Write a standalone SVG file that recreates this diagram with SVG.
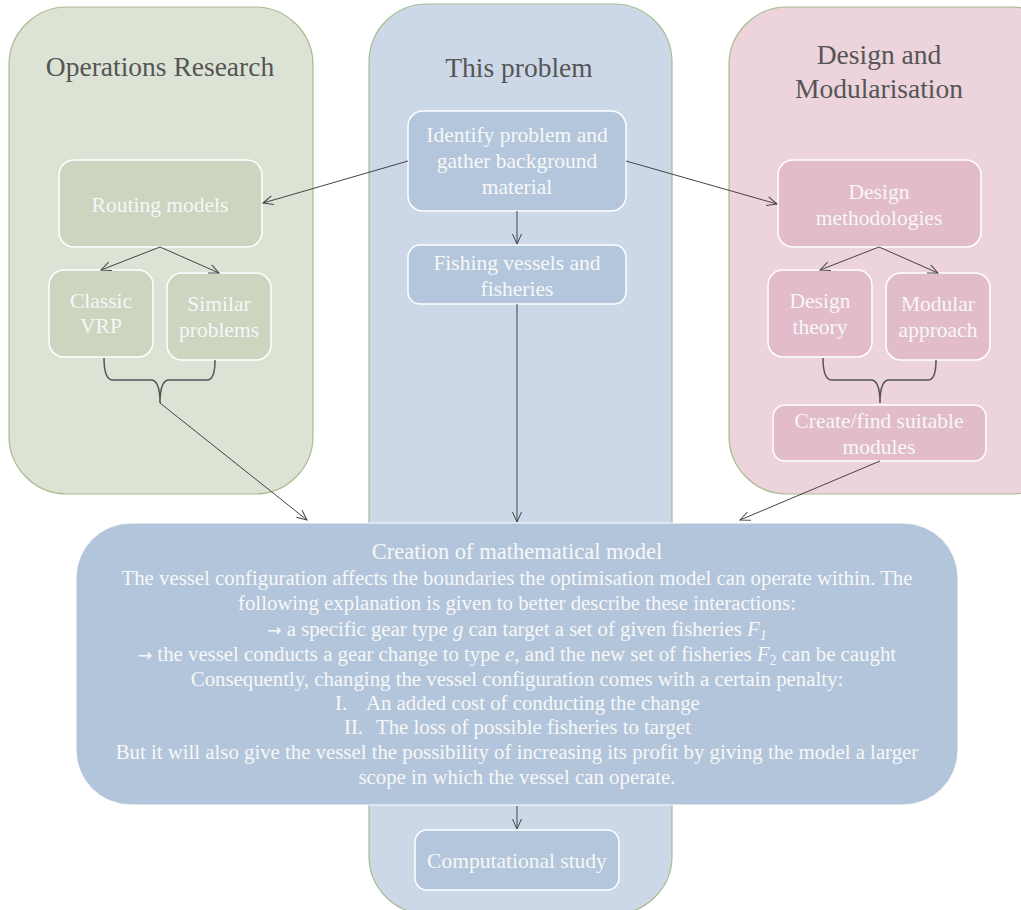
<svg xmlns="http://www.w3.org/2000/svg" width="1021" height="910" viewBox="0 0 1021 910">
  <defs>
    <marker id="arrow" viewBox="0 0 12 12" refX="11" refY="6" markerWidth="12" markerHeight="12" markerUnits="userSpaceOnUse" orient="auto">
      <path d="M1,1.5 L11,6 L1,10.5" fill="none" stroke="#444" stroke-width="1"/>
    </marker>
    <style>
      text { font-family: "Liberation Serif", "Times New Roman", serif; }
      .head { font-size: 27.5px; fill: #555; text-anchor: middle; }
      .lbl { font-size: 21.5px; fill: #f7f7f7; text-anchor: middle; }
      .body { font-size: 20.8px; fill: #f7f7f7; text-anchor: middle; }
      .arr { font-family: "DejaVu Sans", sans-serif; font-size: 17px; }
      .panel { stroke: #a9bb8f; stroke-width: 1.2; }
      .node { stroke: #ffffff; stroke-width: 1.5; }
      .edge { fill: none; stroke: #444; stroke-width: 1; marker-end: url(#arrow); }
      .brace { fill: none; stroke: #555; stroke-width: 1.5; }
    </style>
  </defs>

  <rect width="1021" height="910" fill="#ffffff"/>

  <!-- column backgrounds -->
  <g id="panel-or">
    <rect class="panel" x="9" y="7" width="304" height="487" rx="58" fill="#dce2d4"/>
    <text class="head" x="160" y="76">Operations Research</text>
  </g>
  <g id="panel-problem">
    <rect class="panel" x="369" y="4" width="303" height="910" rx="58" fill="#ccd8e7"/>
    <text class="head" x="519" y="77">This problem</text>
  </g>
  <g id="panel-design">
    <rect class="panel" x="729" y="7" width="340" height="487" rx="58" fill="#ecd3dc"/>
    <text class="head" x="879" y="64">Design and</text>
    <text class="head" x="879" y="98">Modularisation</text>
  </g>

  <!-- Operations Research nodes -->
  <g id="routing">
    <rect class="node" x="59" y="160" width="203" height="87" rx="15" fill="#cbd5c0"/>
    <text class="lbl" x="160" y="212">Routing models</text>
  </g>
  <g id="classic-vrp">
    <rect class="node" x="49" y="270" width="104" height="87" rx="15" fill="#cbd5c0"/>
    <text class="lbl" x="101" y="308">Classic</text>
    <text class="lbl" x="101" y="333">VRP</text>
  </g>
  <g id="similar">
    <rect class="node" x="167" y="273" width="104" height="87" rx="15" fill="#cbd5c0"/>
    <text class="lbl" x="219" y="311">Similar</text>
    <text class="lbl" x="219" y="337">problems</text>
  </g>

  <!-- This problem nodes -->
  <g id="identify">
    <rect class="node" x="408" y="111" width="218" height="100" rx="15" fill="#b3c6dc"/>
    <text class="lbl" x="517" y="142">Identify problem and</text>
    <text class="lbl" x="517" y="168">gather background</text>
    <text class="lbl" x="517" y="194">material</text>
  </g>
  <g id="fishing">
    <rect class="node" x="408" y="245" width="218" height="59" rx="12" fill="#b3c6dc"/>
    <text class="lbl" x="517" y="270">Fishing vessels and</text>
    <text class="lbl" x="517" y="296">fisheries</text>
  </g>

  <!-- Design and Modularisation nodes -->
  <g id="design-methods">
    <rect class="node" x="778" y="160" width="203" height="87" rx="15" fill="#e2bccb"/>
    <text class="lbl" x="879" y="199">Design</text>
    <text class="lbl" x="879" y="225">methodologies</text>
  </g>
  <g id="design-theory">
    <rect class="node" x="768" y="270" width="104" height="87" rx="15" fill="#e2bccb"/>
    <text class="lbl" x="820" y="308">Design</text>
    <text class="lbl" x="820" y="334">theory</text>
  </g>
  <g id="modular">
    <rect class="node" x="886" y="273" width="104" height="87" rx="15" fill="#e2bccb"/>
    <text class="lbl" x="938" y="311">Modular</text>
    <text class="lbl" x="938" y="337">approach</text>
  </g>
  <g id="modules">
    <rect class="node" x="773" y="405" width="213" height="56" rx="12" fill="#e2bccb"/>
    <text class="lbl" x="879" y="428">Create/find suitable</text>
    <text class="lbl" x="879" y="454">modules</text>
  </g>

  <!-- connectors -->
  <g id="connectors">
    <path class="edge" d="M408,161 L263,203"/>
    <path class="edge" d="M626,161 L777,204"/>
    <path class="edge" d="M517,211 L517,244"/>
    <path class="edge" d="M160,247 L101,270"/>
    <path class="edge" d="M160,247 L219,273"/>
    <path class="edge" d="M879,247 L820,270"/>
    <path class="edge" d="M879,247 L938,273"/>
    <path class="brace" d="M104,358 Q104,380 113,380 L151,380 Q160,380 160,403 M215,360 Q215,380 207,380 L169,380 Q160,380 160,403"/>
    <path class="brace" d="M823,358 Q823,380 832,380 L871,380 Q880,380 880,403 M936,360 Q936,380 928,380 L889,380 Q880,380 880,403"/>
    <path class="edge" d="M160,403 L307,520"/>
    <path class="edge" d="M880,461 L740,520"/>
    <path class="edge" d="M517,304 L517,522"/>
    <path class="edge" d="M517,806 L517,829"/>
  </g>

  <!-- mathematical model -->
  <g id="model">
    <rect x="76" y="523" width="882" height="282" rx="55" fill="#b3c5db" stroke="#ffffff" stroke-width="1"/>
    <text class="body" x="517" y="559" style="font-size:22.5px">Creation of mathematical model</text>
    <text class="body" x="517" y="585">The vessel configuration affects the boundaries the optimisation model can operate within. The</text>
    <text class="body" x="517" y="610">following explanation is given to better describe these interactions:</text>
    <text class="body" x="517" y="636"><tspan class="arr">→</tspan> a specific gear type <tspan font-style="italic">g</tspan> can target a set of given fisheries <tspan font-style="italic">F</tspan><tspan font-style="italic" font-size="14" dy="4">1</tspan></text>
    <text class="body" x="517" y="661"><tspan class="arr">→</tspan> the vessel conducts a gear change to type <tspan font-style="italic">e</tspan>, and the new set of fisheries <tspan font-style="italic">F</tspan><tspan font-size="14" dy="4">2</tspan><tspan dy="-4"> can be caught</tspan></text>
    <text class="body" x="517" y="686">Consequently, changing the vessel configuration comes with a certain penalty:</text>
    <text class="body" x="335" y="710" style="text-anchor:start">I.</text>
    <text class="body" x="366" y="710" style="text-anchor:start">An added cost of conducting the change</text>
    <text class="body" x="344" y="734" style="text-anchor:start">II.</text>
    <text class="body" x="376" y="734" style="text-anchor:start">The loss of possible fisheries to target</text>
    <text class="body" x="517" y="759">But it will also give the vessel the possibility of increasing its profit by giving the model a larger</text>
    <text class="body" x="517" y="784">scope in which the vessel can operate.</text>
  </g>

  <g id="computational">
    <rect class="node" x="415" y="830" width="204" height="60" rx="12" fill="#b3c6dc"/>
    <text class="lbl" x="517" y="868">Computational study</text>
  </g>
</svg>
